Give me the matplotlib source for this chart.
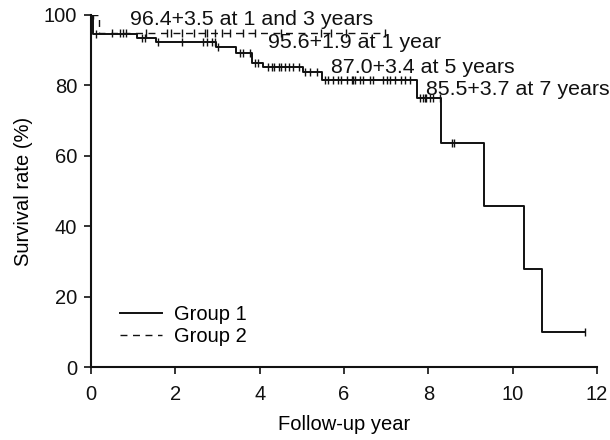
import numpy as np
import matplotlib
matplotlib.use("Agg")
import matplotlib.pyplot as plt

plt.rcParams['font.family'] = ['Liberation Sans', 'DejaVu Sans']

# Group 1 Kaplan-Meier steps (years, %)
g1_times = [0, 0.05, 1.1, 1.55, 2.97, 3.45, 3.81, 4.08, 5.02, 5.47, 7.72, 8.31, 9.31, 10.26, 10.70, 11.72]
g1_surv = [100, 94.6, 93.4, 92.2, 90.8, 89.1, 86.5, 85.1, 83.9, 81.6, 76.3, 63.7, 45.7, 27.8, 9.9, 9.9]
g1_censor = [0.12, 1.2, 1.28, 1.6, 2.15, 2.66, 2.74, 2.86, 2.94, 3.02, 3.53, 3.61, 3.77, 3.89,
             3.97, 4.2, 4.3, 4.35, 4.45, 4.5, 4.6, 4.7, 4.8, 4.93, 5.07, 5.19, 5.35, 5.55, 5.62,
             5.74, 5.86, 5.94, 6.06, 6.18, 6.22, 6.26, 6.37, 6.45, 6.61, 6.69, 6.93, 7.01, 7.09,
             7.2, 7.36, 7.44, 7.56, 7.8, 7.88, 7.91, 7.95, 8.03, 8.1, 8.27, 8.55, 8.6, 11.72]

# Group 2
g2_times = [0, 0.2, 6.97]
g2_surv = [100, 95.0, 95.0]
g2_censor = [0.05, 0.5, 0.68, 0.76, 0.84, 1.3, 1.8, 1.9, 2.15, 2.45, 2.7, 2.75, 2.95, 3.1,
             3.3, 3.6, 3.9, 4.5, 5.45, 5.7, 6.05, 6.97]

annotations = [
    ("96.4+3.5 at 1 and 3 years", 0.92, 97.2),
    ("95.6+1.9 at 1 year", 4.19, 90.5),
    ("87.0+3.4 at 5 years", 5.7, 83.4),
    ("85.5+3.7 at 7 years", 7.95, 77.3),
]

xticks = [0, 2, 4, 6, 8, 10, 12]
yticks = [0, 20, 40, 60, 80, 100]


def step_value(times, surv, t):
    idx = np.searchsorted(times, t, side='right') - 1
    return np.asarray(surv)[idx]


fig = plt.figure(figsize=(6.1, 4.4), dpi=100)
ax = fig.add_axes([91/610, 73/440, 506/610, 352/440])

col = '#111111'
ax.step(g1_times, g1_surv, where='post', color=col, lw=1.4, label='Group 1')
ax.step(g2_times, g2_surv, where='post', color=col, lw=1.0,
        linestyle=(0, (5, 4)), label='Group 2')

ax.plot(g1_censor, step_value(g1_times, g1_surv, np.array(g1_censor)),
        linestyle='none', marker='|', markersize=6, color=col, mew=1.0)
ax.plot(g2_censor, step_value(g2_times, g2_surv, np.array(g2_censor)),
        linestyle='none', marker='|', markersize=6, color=col, mew=1.0)

for txt, x, y in annotations:
    ax.text(x, y, txt, fontsize=15.4, color=col, va='baseline', ha='left')

ax.set_xlim(0, 12)
ax.set_ylim(0, 100)
ax.set_xticks(xticks)
ax.set_yticks(yticks)
ax.tick_params(axis='both', labelsize=14.5, length=5, width=1.2, colors=col)
ax.tick_params(axis='x', pad=8)
ax.tick_params(axis='y', pad=5)
for s in ['top', 'right']:
    ax.spines[s].set_visible(False)
for s in ['left', 'bottom']:
    ax.spines[s].set_linewidth(1.5)
    ax.spines[s].set_color(col)

ax.set_xlabel('Follow-up year', fontsize=14.5, labelpad=8)
ax.set_ylabel('Survival rate (%)', fontsize=14.5, labelpad=8)

ax.legend(loc='center left', bbox_to_anchor=(0.057, 0.119), frameon=False,
          fontsize=14.5, handlelength=2.1, handletextpad=0.6, labelspacing=0.15,
          borderpad=0, borderaxespad=0)

fig.savefig('out.png', dpi=100)
